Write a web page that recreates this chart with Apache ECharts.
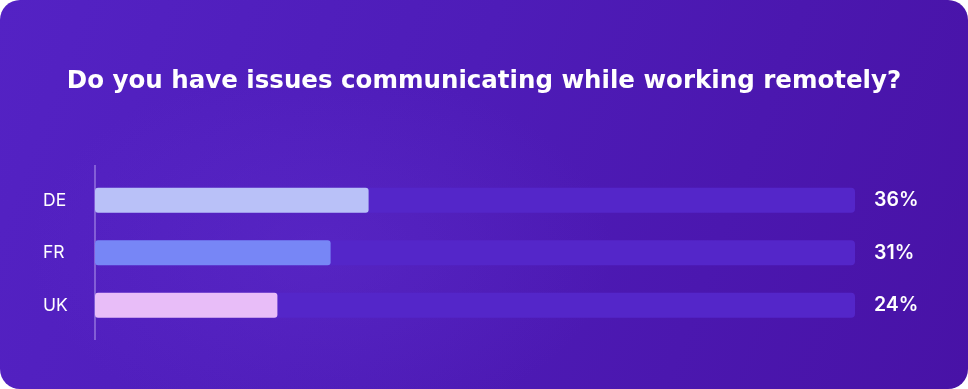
<!DOCTYPE html>
<html>
<head>
<meta charset="utf-8">
<script src="https://cdn.jsdelivr.net/npm/echarts@6/dist/echarts.min.js"></script>
<style>
html,body{margin:0;padding:0;background:#ffffff;}
#card{position:absolute;left:0;top:0;width:968px;height:389px;border-radius:20px;overflow:hidden;
background:radial-gradient(ellipse 420px 260px at 320px 250px, rgba(100,50,210,0.35), rgba(100,50,210,0) 70%),
linear-gradient(110deg,#5422c4 0%,#4e1cb8 45%,#4812a6 100%);}
#chart{width:968px;height:389px;}
</style>
</head>
<body>
<div id="card"><div id="chart"></div></div>
<script>
var titleText = 'Do you have issues communicating while working remotely?';
var categories = ['DE', 'FR', 'UK'];
var values = [36, 31, 24];
var barColors = ['#b9c1f8', '#7786f6', '#e8bdf8'];
var trackMax = 100;

var chart = echarts.init(document.getElementById('chart'), null, {renderer: 'canvas'});
chart.setOption({
  backgroundColor: 'transparent',
  animation: false,
  title: {
    text: titleText,
    left: 'center',
    top: 64,
    textStyle: {color: '#ffffff', fontFamily: 'DejaVu Sans', fontWeight: 'bold', fontSize: 24.5}
  },
  grid: {left: 95, right: 113, top: 174, height: 157.5, containLabel: false},
  xAxis: {type: 'value', min: 0, max: trackMax, show: false},
  yAxis: {
    type: 'category',
    inverse: true,
    data: categories,
    axisLine: {show: false},
    axisTick: {show: false},
    axisLabel: {color: '#ffffff', fontFamily: 'Inter', fontSize: 17.5, align: 'left', margin: 52}
  },
  graphic: [{
    type: 'line',
    shape: {x1: 95, y1: 165, x2: 95, y2: 340},
    style: {stroke: 'rgba(190,170,240,0.6)', lineWidth: 1.5}
  }],
  series: [{
    type: 'bar',
    data: categories.map(function(){ return trackMax; }),
    barWidth: 25,
    itemStyle: {color: '#5426c9', borderRadius: 4},
    label: {
      show: true,
      position: 'right',
      distance: 19,
      color: '#ffffff',
      fontFamily: 'Inter',
      fontWeight: 600,
      fontSize: 19.5,
      formatter: function(p){ return values[p.dataIndex] + '%'; }
    },
    z: 1
  }, {
    type: 'bar',
    data: values.map(function(v, i){ return {value: v, itemStyle: {color: barColors[i]}}; }),
    barWidth: 25,
    barGap: '-100%',
    itemStyle: {borderRadius: 3},
    z: 2
  }]
});
</script>
</body>
</html>
